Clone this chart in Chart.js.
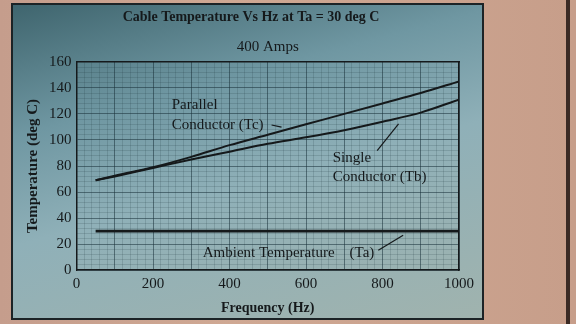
<!DOCTYPE html>
<html>
<head>
<meta charset="utf-8">
<script src="https://cdn.jsdelivr.net/npm/chart.js@4.4.1/dist/chart.umd.min.js"></script>
<style>
  html, body { margin: 0; padding: 0; }
  body {
    width: 576px; height: 324px; overflow: hidden; position: relative;
    background: linear-gradient(90deg, #c59d8c 0%, #cfa893 40%, #c79e8a 100%);
  }
  .edge { position: absolute; left: 566px; top: 0; width: 4px; height: 324px; background: #3b2a24; }
  .panel {
    position: absolute; left: 11px; top: 3px; width: 473px; height: 317px;
    box-sizing: border-box; border: 2px solid #1c2326;
    background: linear-gradient(165deg, #3f656e 0%, #6f97a2 30%, #8fb0b8 55%, #a0b3ae 100%);
  }
  canvas { display: block; }
</style>
</head>
<body>
<div class="edge"></div>
<div class="panel"><canvas id="chart" width="469" height="313"></canvas></div>
<script>
// frequency points
const freqHz = [50, 100, 200, 300, 400, 500, 600, 700, 800, 900, 1000];
const parallelTc = [69, 72.5, 79, 87, 96, 104, 112, 120, 128, 136, 145];
const singleTb = [69, 72, 78.5, 85, 91, 97, 102, 107.5, 114, 121, 131];
const ambientHz = [50, 1000];
const ambientTa = [30, 30];

const xTickLabels = [0, 200, 400, 600, 800, 1000];

// text notes, anchored in data units (Hz, deg C)
const notes = [
  { text: ["Parallel", "Conductor (Tc)"], hz: 249, temp: [127, 111.5], lead: [[510, 111.5], [536, 109.8]] },
  { text: ["Single", "Conductor (Tb)"], hz: 670, temp: [86, 71.5], lead: [[786, 91.8], [842, 112.3]] },
  { text: ["Ambient Temperature    (Ta)"], hz: 330, temp: [13.3], lead: [[789, 15.4], [854, 26.9]] },
];

const ink = "#15191b";
const major = "rgba(25, 50, 58, 0.55)";
const minor = "rgba(25, 50, 58, 0.16)";
const serif = "'Liberation Serif', 'DejaVu Serif', serif";

const toPoints = (xs, ys) => xs.map((x, i) => ({ x: x, y: ys[i] }));

const notesPlugin = {
  id: "notes",
  afterDatasetsDraw(chart) {
    const { ctx, scales } = chart;
    const x = scales.x, y = scales.y;
    ctx.save();
    ctx.fillStyle = ink;
    ctx.strokeStyle = ink;
    ctx.lineWidth = 1.2;
    ctx.font = "15px " + serif;
    ctx.textBaseline = "middle";
    ctx.textAlign = "left";
    notes.forEach((n) => {
      n.text.forEach((t, i) => {
        ctx.fillText(t, x.getPixelForValue(n.hz), y.getPixelForValue(n.temp[i]));
      });
      ctx.beginPath();
      ctx.moveTo(x.getPixelForValue(n.lead[0][0]), y.getPixelForValue(n.lead[0][1]));
      ctx.lineTo(x.getPixelForValue(n.lead[1][0]), y.getPixelForValue(n.lead[1][1]));
      ctx.stroke();
    });
    ctx.restore();
  },
};

const lineStyle = {
  borderColor: ink,
  backgroundColor: ink,
  pointRadius: 0,
  fill: false,
  cubicInterpolationMode: "monotone",
};

new Chart(document.getElementById("chart"), {
  type: "line",
  data: {
    datasets: [
      { label: "Parallel Conductor (Tc)", data: toPoints(freqHz, parallelTc), borderWidth: 2, ...lineStyle },
      { label: "Single Conductor (Tb)", data: toPoints(freqHz, singleTb), borderWidth: 2, ...lineStyle },
      { label: "Ambient Temperature (Ta)", data: toPoints(ambientHz, ambientTa), borderWidth: 2.6, ...lineStyle },
    ],
  },
  options: {
    responsive: false,
    animation: false,
    layout: { padding: { left: 7, right: 0, top: 0, bottom: 0 } },
    plugins: {
      legend: { display: false },
      tooltip: { enabled: false },
      title: {
        display: true,
        text: "Cable Temperature Vs Hz at Ta = 30 deg C",
        color: ink,
        font: { family: serif, size: 14, weight: "bold" },
        padding: { top: 4, bottom: 10 },
      },
    },
    scales: {
      x: {
        type: "linear",
        min: 0,
        max: 1000,
        ticks: {
          stepSize: 100,
          color: ink,
          font: { family: serif, size: 15 },
          padding: 5,
          maxRotation: 0,
          callback: (v) => (xTickLabels.includes(v) ? v : ""),
        },
        grid: { color: major, drawTicks: false },
        border: { color: ink, width: 1.5 },
        title: {
          display: true,
          text: "Frequency (Hz)",
          color: ink,
          font: { family: serif, size: 14, weight: "bold" },
          padding: { top: 2, bottom: 1 },
        },
      },
      xm: {
        type: "linear",
        position: "top",
        min: 0,
        max: 1000,
        ticks: { display: false, stepSize: 20 },
        grid: {
          drawTicks: false,
          color: (c) => (c.tick && c.tick.value % 100 === 0 ? "rgba(0,0,0,0)" : minor),
        },
        border: { color: ink, width: 1.5 },
        title: {
          display: true,
          text: "400 Amps",
          color: ink,
          font: { family: serif, size: 15 },
          padding: { top: 2, bottom: 6 },
        },
      },
      y: {
        min: 0,
        max: 160,
        ticks: { stepSize: 20, color: ink, font: { family: serif, size: 15 }, padding: 5 },
        grid: { color: major, drawTicks: false },
        border: { color: ink, width: 1.5 },
        title: {
          display: true,
          text: "Temperature (deg C)",
          color: ink,
          font: { family: serif, size: 15, weight: "bold" },
          padding: { top: 4, bottom: 2 },
        },
      },
      ym: {
        position: "right",
        min: 0,
        max: 160,
        ticks: { display: false, stepSize: 4 },
        grid: {
          drawTicks: false,
          color: (c) => (c.tick && c.tick.value % 20 === 0 ? "rgba(0,0,0,0)" : minor),
        },
        border: { color: ink, width: 1.5 },
        afterFit: (scale) => { scale.width = 23; },
      },
    },
  },
  plugins: [notesPlugin],
});
</script>
</body>
</html>
